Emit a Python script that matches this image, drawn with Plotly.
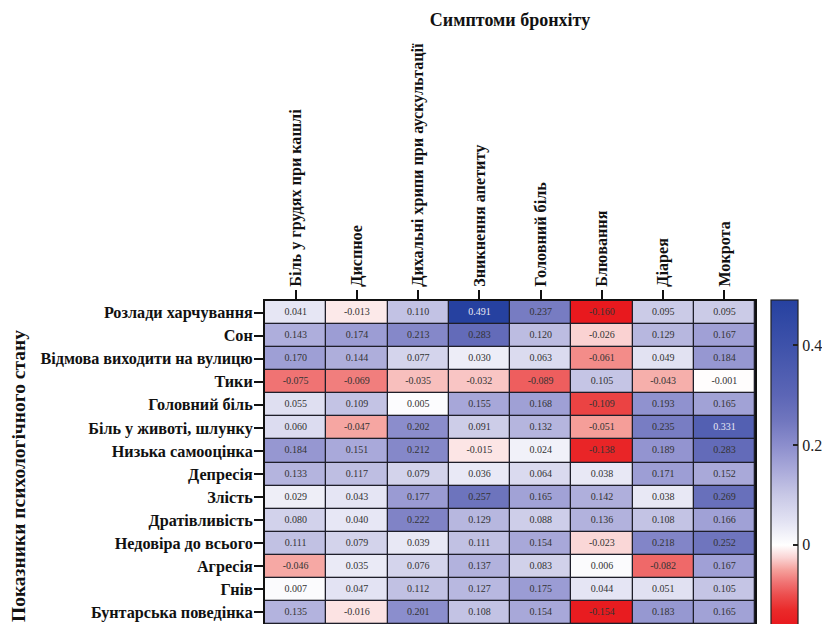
import numpy as np
import plotly.graph_objects as go

symptoms = ["Біль у грудях при кашлі", "Диспное", "Дихальні хрипи при аускультації",
            "Зникнення апетиту", "Головний біль", "Блювання", "Діарея", "Мокрота"]

indicators = ["Розлади харчування", "Сон", "Відмова виходити на вулицю", "Тики",
              "Головний біль", "Біль у животі, шлунку", "Низька самооцінка", "Депресія",
              "Злість", "Дратівливість", "Недовіра до всього", "Агресія", "Гнів",
              "Бунтарська поведінка"]

row_eating = [0.041, -0.013, 0.110, 0.491, 0.237, -0.160, 0.095, 0.095]
row_sleep = [0.143, 0.174, 0.213, 0.283, 0.120, -0.026, 0.129, 0.167]
row_refusal = [0.170, 0.144, 0.077, 0.030, 0.063, -0.061, 0.049, 0.184]
row_tics = [-0.075, -0.069, -0.035, -0.032, -0.089, 0.105, -0.043, -0.001]
row_headache = [0.055, 0.109, 0.005, 0.155, 0.168, -0.109, 0.193, 0.165]
row_stomach = [0.060, -0.047, 0.202, 0.091, 0.132, -0.051, 0.235, 0.331]
row_selfesteem = [0.184, 0.151, 0.212, -0.015, 0.024, -0.138, 0.189, 0.283]
row_depression = [0.133, 0.117, 0.079, 0.036, 0.064, 0.038, 0.171, 0.152]
row_anger = [0.029, 0.043, 0.177, 0.257, 0.165, 0.142, 0.038, 0.269]
row_irritability = [0.080, 0.040, 0.222, 0.129, 0.088, 0.136, 0.108, 0.166]
row_distrust = [0.111, 0.079, 0.039, 0.111, 0.154, -0.023, 0.218, 0.252]
row_aggression = [-0.046, 0.035, 0.076, 0.137, 0.083, 0.006, -0.082, 0.167]
row_wrath = [0.007, 0.047, 0.112, 0.127, 0.175, 0.044, 0.051, 0.105]
row_rebellion = [0.135, -0.016, 0.201, 0.108, 0.154, -0.154, 0.183, 0.165]

z = np.array([row_eating, row_sleep, row_refusal, row_tics, row_headache, row_stomach,
              row_selfesteem, row_depression, row_anger, row_irritability, row_distrust,
              row_aggression, row_wrath, row_rebellion])

zmin, zmax = float(z.min()), float(z.max())

# colour stops (value, colour)
stops = [(-0.160, "rgb(232,25,30)"), (-0.13, "rgb(234,42,42)"), (-0.1, "rgb(236,78,78)"),
         (-0.075, "rgb(240,115,115)"), (-0.05, "rgb(245,160,155)"), (-0.025, "rgb(250,212,212)"),
         (0.0, "rgb(255,255,255)"), (0.05, "rgb(225,225,242)"), (0.1, "rgb(200,200,230)"),
         (0.15, "rgb(170,170,218)"), (0.2, "rgb(140,142,205)"), (0.25, "rgb(112,118,190)"),
         (0.3, "rgb(92,102,182)"), (0.4, "rgb(62,82,170)"), (0.491, "rgb(38,65,160)")]
colorscale = [[min(1.0, max(0.0, (v - zmin) / (zmax - zmin))), c] for v, c in stops]
colorscale[0][0] = 0.0
colorscale[-1][0] = 1.0

serif = "Liberation Serif"

fig = go.Figure()
fig.add_trace(go.Heatmap(
    z=z, x=symptoms, y=indicators, zmin=zmin, zmax=zmax,
    colorscale=colorscale, xgap=1.3, ygap=1.3, hoverinfo="skip",
    colorbar=dict(
        x=1.0327, xanchor="left", xpad=0, y=1.004, yanchor="top", ypad=0,
        len=325, lenmode="pixels", thickness=27, thicknessmode="pixels",
        outlinecolor="#222", outlinewidth=1.2,
        tickvals=[0, 0.2, 0.4], ticktext=["0", "0.2", "0.4"],
        ticks="inside", ticklen=5, tickwidth=1.5, tickcolor="#222",
        tickfont=dict(family=serif, size=16, color="#222"),
    ),
))

xs, ys = np.meshgrid(np.arange(len(symptoms)), np.arange(len(indicators)))
flat = z.flatten()
fig.add_trace(go.Scatter(
    x=[symptoms[i] for i in xs.flatten()], y=[indicators[j] for j in ys.flatten()],
    mode="text", text=[f"{v:.3f}" for v in flat],
    textfont=dict(family=serif, size=10,
                  color=["#e8e8f5" if v > 0.3 else "#333" for v in flat]),
    hoverinfo="skip", showlegend=False,
))

# page body has an 8px margin, so the figure is 8px smaller than the window
fig.update_layout(
    width=822, height=616,
    margin=dict(l=257, r=75, t=293, b=0, autoexpand=False),
    paper_bgcolor="white", plot_bgcolor="#1e1e2a",
    showlegend=False,
    title=dict(text="Симптоми бронхіту", x=0.5, xref="paper", y=1 - 12 / 616,
               yanchor="middle", xanchor="center",
               font=dict(family=serif, size=18, color="#111", weight="bold")),
    xaxis=dict(side="top", tickangle=-90, ticks="outside", ticklen=9, tickwidth=2,
               tickcolor="#111", showgrid=False, zeroline=False, automargin=False,
               showline=True, linecolor="#111", linewidth=2, mirror=True,
               range=[-0.5, len(symptoms) - 0.5],
               tickfont=dict(family=serif, size=16.2, color="#111", weight="bold")),
    yaxis=dict(ticks="outside", ticklen=9, tickwidth=2, tickcolor="#111",
               ticklabelstandoff=-2,
               showgrid=False, zeroline=False, automargin=False,
               showline=True, linecolor="#111", linewidth=2, mirror=True,
               range=[len(indicators) - 0.5, -0.5],
               tickfont=dict(family=serif, size=16.2, color="#111", weight="bold")),
    annotations=[dict(text="Показники психологічного стану", textangle=-90,
                      xref="paper", yref="paper", x=(18 - 265) / 490, y=(624 - 476) / 323,
                      xanchor="center", yanchor="middle", showarrow=False,
                      font=dict(family=serif, size=19.5, color="#111", weight="bold"))],
)

fig.write_html("out.html")
